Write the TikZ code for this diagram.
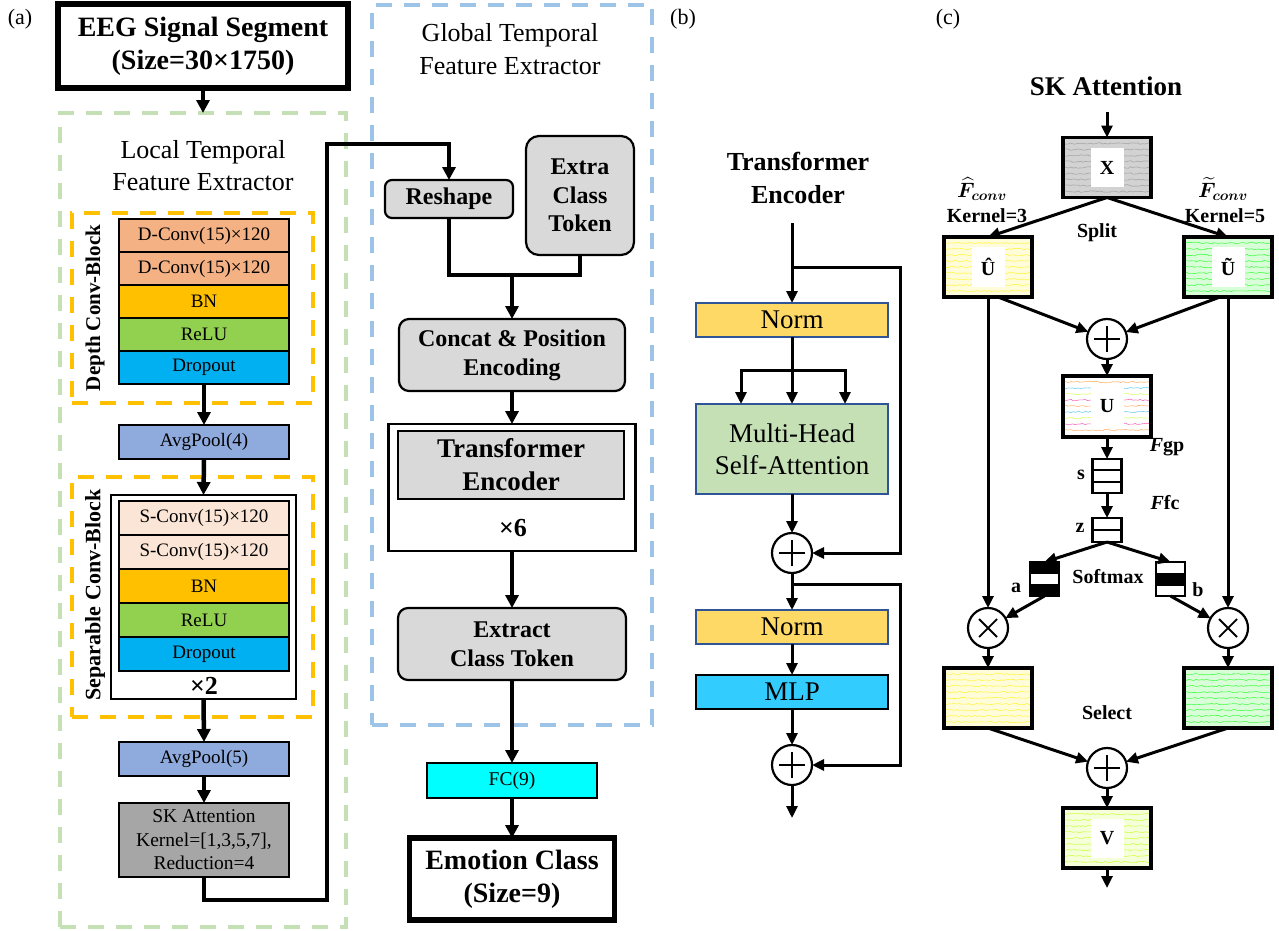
\documentclass[tikz,border=0pt]{standalone}
\usepackage{amsmath}
\usepackage{bm}
\usepackage{fontspec}
\setmainfont{Liberation Serif}
\usetikzlibrary{arrows.meta,positioning,calc,decorations.pathmorphing}

\newcommand{\fsz}[2]{\fontsize{#1}{#2}\selectfont}

\begin{document}
\begin{tikzpicture}[x=1pt, y=-1pt,
        every node/.style={inner sep=0pt, outer sep=0pt, align=center},
        arr/.style={line width=4.5pt, -{Triangle[length=13pt, width=13pt]}},
        link/.style={line width=4.5pt},
        arrs/.style={line width=3pt, -{Triangle[length=12pt, width=11pt]}},
        links/.style={line width=3pt},
        dashbox/.style={draw=#1, line width=3.5pt, dash pattern=on 16pt off 12pt},
        layer/.style={draw, line width=2.2pt, minimum width=170pt, minimum height=33pt, font=\fsz{19}{22}},
        slayer/.style={layer, minimum height=34pt},
        rbox/.style={draw, line width=2.2pt, fill=boxgray, rounded corners=10pt, font=\fsz{24}{29}\bfseries},
        iobox/.style={draw, line width=5.5pt, font=\fsz{28}{33}\bfseries},
        tfbox/.style={draw=normedge, line width=1.8pt, minimum width=192pt, font=\fsz{27}{32}},
        fmap/.style={draw, line width=3.2pt, fill=#1!15, minimum width=88pt, minimum height=60pt,
            path picture={\foreach \k in {1,...,9}
                \draw[#1!70, line width=0.6pt, decorate, decoration={random steps, segment length=2.5pt, amplitude=0.8pt}]
                    ([yshift=-\k*6pt]path picture bounding box.north west) -- ([yshift=-\k*6pt]path picture bounding box.north east);}},
        fmapmix/.style={draw, line width=3.2pt, fill=white, minimum width=88pt, minimum height=61pt,
            path picture={\foreach \k/\c in {1/orange,2/cyan,3/lime,4/magenta,5/orange,6/cyan,7/lime,8/magenta,9/orange}
                \draw[\c!55, line width=0.6pt, decorate, decoration={random steps, segment length=2.5pt, amplitude=0.8pt}]
                    ([yshift=-\k*6pt]path picture bounding box.north west) -- ([yshift=-\k*6pt]path picture bounding box.north east);}},
        flab/.style={fill=white, minimum width=33pt, minimum height=39pt, font=\fsz{20}{24}\bfseries},
        opsum/.style={circle, draw, line width=2.2pt, fill=white, minimum size=40pt,
            path picture={\draw[line width=1.8pt]
                ([yshift=-7pt]path picture bounding box.north) -- ([yshift=7pt]path picture bounding box.south)
                ([xshift=7pt]path picture bounding box.west) -- ([xshift=-7pt]path picture bounding box.east);}},
        opmul/.style={circle, draw, line width=2.2pt, fill=white, minimum size=40pt,
            path picture={\draw[line width=1.8pt]
                ([shift={(-9pt,-9pt)}]path picture bounding box.center) -- ([shift={(9pt,9pt)}]path picture bounding box.center)
                ([shift={(-9pt,9pt)}]path picture bounding box.center) -- ([shift={(9pt,-9pt)}]path picture bounding box.center);}},
        vec/.style={draw, line width=2.2pt, fill=white, minimum width=29pt},
        veca/.style={vec, minimum height=34pt, path picture={
            \fill[black] (path picture bounding box.north west) rectangle ($(path picture bounding box.north east)!0.36!(path picture bounding box.south east)$);
            \fill[black] ($(path picture bounding box.north west)!0.66!(path picture bounding box.south west)$) rectangle (path picture bounding box.south east);}},
        vecb/.style={vec, minimum height=34pt, path picture={
            \fill[black] ($(path picture bounding box.north west)!0.33!(path picture bounding box.south west)$) rectangle ($(path picture bounding box.north east)!0.72!(path picture bounding box.south east)$);}},
        lbl/.style={font=\fsz{20}{24}\bfseries},
        tag/.style={font=\fsz{22}{26}}
    ]
    \definecolor{ltgreen}{RGB}{197,224,180}
    \definecolor{ltblue}{RGB}{157,195,230}
    \definecolor{bnorange}{RGB}{255,192,0}
    \definecolor{dconv}{RGB}{244,177,131}
    \definecolor{sconv}{RGB}{251,229,214}
    \definecolor{relugreen}{RGB}{146,208,80}
    \definecolor{dropblue}{RGB}{0,176,240}
    \definecolor{poolblue}{RGB}{143,170,220}
    \definecolor{skgray}{RGB}{166,166,166}
    \definecolor{boxgray}{RGB}{217,217,217}
    \definecolor{fccyan}{RGB}{0,255,255}
    \definecolor{normyellow}{RGB}{255,217,102}
    \definecolor{normedge}{RGB}{47,85,151}
    \definecolor{attgreen}{RGB}{197,224,180}
    \definecolor{mlpblue}{RGB}{51,204,255}

    \useasboundingbox (0,0) rectangle (1279,930);

    % (a) frames
    \node[tag] (taga) at (20,19) {(a)};
    \node[dashbox=ltgreen, minimum width=286pt, minimum height=814pt] (ltfe) at (203,520) {};
    \node[dashbox=ltblue, minimum width=280pt, minimum height=720pt] (gtfe) at (512,365) {};
    \node[iobox, minimum width=290pt, minimum height=84pt] (eeg) at (203,46) {EEG Signal Segment\\(Size=30×1750)};

    % Local temporal feature extractor
    \node[font=\fsz{26}{32}] (ltfetitle) at (203,166) {Local Temporal\\Feature Extractor};
    \node[dashbox=bnorange, minimum width=241pt, minimum height=190pt] (dblock) at (192.5,308) {};
    \node[rotate=90, font=\fsz{21}{24}\bfseries] (dlabel) at (95,308) {Depth Conv-Block};
    \node[layer, fill=dconv] (dc1) at (204,235.5) {D-Conv(15)×120};
    \node[layer, fill=dconv, below=0pt of dc1] (dc2) {D-Conv(15)×120};
    \node[layer, fill=bnorange, below=0pt of dc2] (bn1) {BN};
    \node[layer, fill=relugreen, below=0pt of bn1] (relu1) {ReLU};
    \node[layer, fill=dropblue, below=0pt of relu1] (drop1) {Dropout};
    \node[slayer, fill=poolblue] (pool1) at (204,442) {AvgPool(4)};

    \node[dashbox=bnorange, minimum width=241pt, minimum height=240pt] (sblock) at (192.5,597) {};
    \node[rotate=90, font=\fsz{22}{24}\bfseries] (slabel) at (95,595) {Separable Conv-Block};
    \node[draw, line width=2.2pt, fill=white, minimum width=185pt, minimum height=204pt] (srep) at (203.5,597) {};
    \node[slayer, fill=sconv] (sc1) at (204,518) {S-Conv(15)×120};
    \node[slayer, fill=sconv, below=0pt of sc1] (sc2) {S-Conv(15)×120};
    \node[slayer, fill=bnorange, below=0pt of sc2] (bn2) {BN};
    \node[slayer, fill=relugreen, below=0pt of bn2] (relu2) {ReLU};
    \node[slayer, fill=dropblue, below=0pt of relu2] (drop2) {Dropout};
    \node[font=\fsz{26}{30}\bfseries] (stimes) at (204,686) {×2};
    \node[slayer, fill=poolblue] (pool2) at (204,759) {AvgPool(5)};
    \node[layer, fill=skgray, minimum height=74pt, font=\fsz{19.5}{23.5}] (sk) at (204,840) {SK Attention\\Kernel=[1,3,5,7],\\Reduction=4};

    % Global temporal feature extractor
    \node[font=\fsz{26}{33}] (gtfetitle) at (510,49) {Global Temporal\\Feature Extractor};
    \node[rbox, minimum width=128pt, minimum height=38pt, rounded corners=7pt] (reshape) at (449,199) {Reshape};
    \node[rbox, minimum width=108pt, minimum height=119pt, rounded corners=13pt, font=\fsz{24}{28.5}\bfseries] (token) at (580,195.5) {Extra\\Class\\Token};
    \node[rbox, minimum width=226pt, minimum height=72pt] (concat) at (512,355) {Concat \& Position\\Encoding};
    \node[draw, line width=2.2pt, fill=white, minimum width=247pt, minimum height=127pt] (tfrep) at (512,487.5) {};
    \node[draw, line width=2.2pt, fill=boxgray, minimum width=226pt, minimum height=68pt, font=\fsz{27}{33}\bfseries] (tfenc) at (511,465) {Transformer\\Encoder};
    \node[font=\fsz{26}{30}\bfseries] (ttimes) at (513,528) {×6};
    \node[rbox, minimum width=228pt, minimum height=72pt] (extract) at (512,644) {Extract\\Class Token};
    \node[draw, line width=1.8pt, fill=fccyan, minimum width=170pt, minimum height=35pt, font=\fsz{19.5}{23}] (fc) at (512,780.5) {FC(9)};
    \node[iobox, minimum width=205pt, minimum height=82pt] (emotion) at (512,879) {Emotion Class\\(Size=9)};

    % (a) arrows
    \coordinate (lift) at (327,144);
    \coordinate (merge) at (512,275);
    \draw[arr] (eeg.south) -- (ltfe.north);
    \draw[arr] (drop1.south) -- (pool1.north);
    \draw[arr] (pool1.south) -- (srep.north);
    \draw[arr] (srep.south) -- (pool2.north);
    \draw[arr] (pool2.south) -- (sk.north);
    \draw[arr] (sk.south) -- ++(0,23) -| (lift) -| (reshape.north);
    \draw[link] (reshape.south) |- (merge) -| (token.south);
    \draw[arr] (merge) -- (concat.north);
    \draw[arr] (concat.south) -- (tfrep.north);
    \draw[arr] (tfrep.south) -- (extract.north);
    \draw[arr] (extract.south) -- (fc.north);
    \draw[arr] (fc.south) -- (emotion.north);

    % (b) transformer encoder
    \node[tag] (tagb) at (683,19) {(b)};
    \node[font=\fsz{26}{33}\bfseries] (tehead) at (798,178) {Transformer\\Encoder};
    \coordinate (tin) at (792,223);
    \coordinate (skip1) at (792,267);
    \node[tfbox, fill=normyellow, minimum height=34pt] (norm1) at (792,320) {Norm};
    \node[tfbox, fill=attgreen, minimum height=90pt] (mhsa) at (792,449) {Multi-Head\\Self-Attention};
    \node[opsum] (add1) at (792,553) {};
    \coordinate (skip2) at (792,584);
    \node[tfbox, fill=normyellow, minimum height=34pt] (norm2) at (792,627) {Norm};
    \node[tfbox, draw=black, line width=2.2pt, fill=mlpblue, minimum height=34pt] (mlp) at (792,692) {MLP};
    \node[opsum] (add2) at (792,765) {};
    \coordinate (tout) at (792,818);

    \draw[arrs] (tin) -- (norm1.north);
    \draw[arrs] (skip1) -- ++(108,0) |- (add1.east);
    \draw[links] (norm1.south) -- ++(0,33) coordinate (fork);
    \draw[arrs] (fork) -- (mhsa.north);
    \draw[arrs] (fork) -| ([xshift=-51pt]mhsa.north);
    \draw[arrs] (fork) -| ([xshift=53pt]mhsa.north);
    \draw[arrs] (mhsa.south) -- (add1.north);
    \draw[arrs] (add1.south) -- (norm2.north);
    \draw[arrs] (skip2) -- ++(108,0) |- (add2.east);
    \draw[arrs] (norm2.south) -- (mlp.north);
    \draw[arrs] (mlp.south) -- (add2.north);
    \draw[arrs] (add2.south) -- (tout);

    % (c) SK attention
    \node[tag] (tagc) at (948,19) {(c)};
    \node[font=\fsz{27}{32}\bfseries] (skhead) at (1106,86) {SK Attention};
    \coordinate (skin) at (1107,112);
    \node[fmap=gray, fill=gray!35] (xmap) at (1107,167.5) {};
    \node[flab] (xlab) at (xmap.center) {X};
    \node[fmap=yellow] (uhat) at (988,267) {};
    \node[flab, minimum height=40pt] (uhatlab) at (uhat.center) {Û};
    \node[fmap=green] (utilde) at (1228,267) {};
    \node[flab, minimum height=40pt] (utildelab) at (utilde.center) {Ũ};
    \node[font=\fsz{22}{24}] (fhat) at (982,189) {$\bm{\widehat{F}_{conv}}$};
    \node[lbl] (k3) at (987,216) {Kernel=3};
    \node[font=\fsz{22}{24}] (ftilde) at (1223,189) {$\bm{\widetilde{F}_{conv}}$};
    \node[lbl] (k5) at (1225,216) {Kernel=5};
    \node[lbl] (split) at (1097,233) {Split};
    \node[opsum] (sum1) at (1107,339) {};
    \node[fmapmix] (umap) at (1107,406.5) {};
    \node[flab] (ulab) at (umap.center) {U};
    \node[lbl] (fgp) at (1167,447) {\textit{F}gp};
    \node[vec, minimum height=34pt] (svec) at (1107,476) {};
    \node[lbl] (slab) at (1081,475) {s};
    \node[lbl] (ffc) at (1165,503) {\textit{F}fc};
    \node[vec, minimum height=24pt] (zvec) at (1107,530) {};
    \node[lbl] (zlab) at (1080,528) {z};
    \node[veca] (avec) at (1044.5,579) {};
    \node[vecb] (bvec) at (1170.5,579) {};
    \node[lbl] (alab) at (1016,588) {a};
    \node[lbl] (blab) at (1198,590) {b};
    \node[lbl] (softmax) at (1108,577) {Softmax};
    \node[opmul] (mul1) at (988,628) {};
    \node[opmul] (mul2) at (1228,628) {};
    \node[fmap=yellow] (sel1) at (988,698) {};
    \node[fmap=green] (sel2) at (1228,698) {};
    \node[lbl] (select) at (1107,713) {Select};
    \node[opsum] (sum2) at (1107,768) {};
    \node[fmap=lime] (vmap) at (1107,838) {};
    \node[flab] (vlab) at (vmap.center) {V};
    \coordinate (skout) at (1107,888);

    % vector cells
    \draw[line width=2.2pt] ($(svec.north west)!1/3!(svec.south west)$) -- ($(svec.north east)!1/3!(svec.south east)$)
        ($(svec.north west)!2/3!(svec.south west)$) -- ($(svec.north east)!2/3!(svec.south east)$);
    \draw[line width=2.2pt] (zvec.west) -- (zvec.east);

    % (c) arrows
    \draw[arrs] (skin) -- (xmap.north);
    \draw[arrs] (xmap.south) -- (uhat.north);
    \draw[arrs] (xmap.south) -- (utilde.north);
    \draw[arrs] ([xshift=10pt]uhat.south) -- (sum1);
    \draw[arrs] ([xshift=-8pt]utilde.south) -- (sum1);
    \draw[arrs] (uhat.south) -- (mul1.north);
    \draw[arrs] (utilde.south) -- (mul2.north);
    \draw[arrs] (sum1.south) -- (umap.north);
    \draw[arrs] (umap.south) -- (svec.north);
    \draw[arrs] (svec.south) -- (zvec.north);
    \draw[arrs] (zvec.south) -- (avec.north);
    \draw[arrs] (zvec.south) -- (bvec.north);
    \draw[arrs] (avec.south) -- (mul1);
    \draw[arrs] (bvec.south) -- (mul2);
    \draw[arrs] (mul1.south) -- (sel1.north);
    \draw[arrs] (mul2.south) -- (sel2.north);
    \draw[arrs] (sel1.south) -- (sum2);
    \draw[arrs] (sel2.south) -- (sum2);
    \draw[arrs] (sum2.south) -- (vmap.north);
    \draw[arrs] (vmap.south) -- (skout);
\end{tikzpicture}
\end{document}
